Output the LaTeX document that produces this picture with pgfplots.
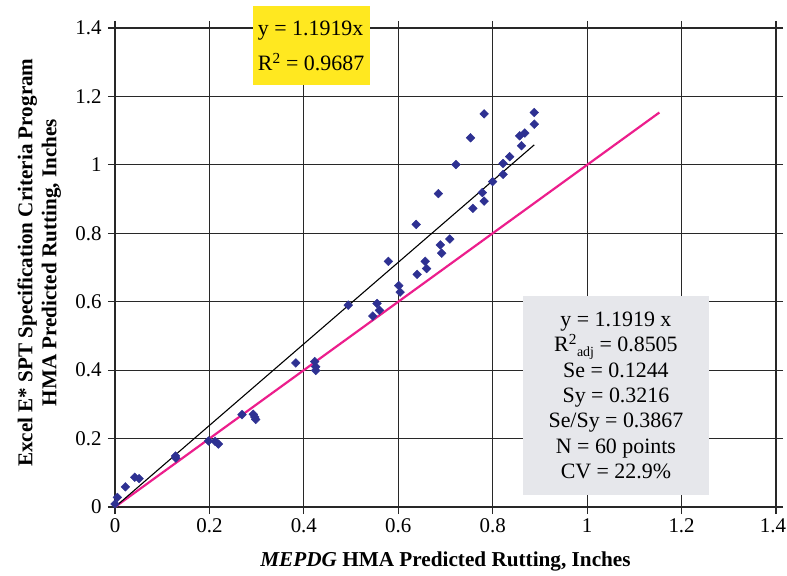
\documentclass[border=0pt]{standalone}
\usepackage{pgfplots}
\pgfplotsset{compat=1.18}
\usepackage{fontspec}
\setmainfont{Liberation Serif}
\definecolor{navy}{RGB}{46,49,146}
\definecolor{pinkline}{RGB}{236,30,140}
\definecolor{ybox}{RGB}{255,232,32}
\definecolor{gbox}{RGB}{230,231,235}
\definecolor{gridc}{RGB}{40,40,40}
\begin{document}
\begin{tikzpicture}
\useasboundingbox (-115bp,-69bp) rectangle (672bp,507bp);
\begin{axis}[
  scale only axis, width=661bp, height=479bp,
  at={(0,0)}, anchor=south west,
  xmin=0, xmax=1.4, ymin=0, ymax=1.4,
  xtick={0,0.2,...,1.4}, ytick={0,0.2,...,1.4},
  xticklabels={0,0.2,0.4,0.6,0.8,1,1.2,\makebox[0pt][c]{\hspace{-6bp}1.4}},
  yticklabels={0,0.2,0.4,0.6,0.8,1,1.2,1.4},
  grid=major,
  major grid style={gridc, line width=1.1pt},
  axis line style={gridc, line width=1.1pt},
  tick style={gridc, line width=1.1pt},
  tick align=outside, major tick length=7bp,
  tick label style={font=\fontsize{21}{23}\selectfont},
  xticklabel style={yshift=-1bp},
  yticklabel style={xshift=-3bp},
  /pgf/number format/assume math mode=true,
  xlabel={\textbf{\textit{MEPDG} HMA Predicted Rutting, Inches}},
  ylabel={\textbf{Excel E* SPT Specification Criteria Program}\\\textbf{HMA Predicted Rutting, Inches}},
  xlabel style={font=\fontsize{21.3}{23}\selectfont, at={(axis description cs:0.5,-0.114)}, anchor=center},
  ylabel style={font=\fontsize{21.2}{24}\selectfont, align=center, at={(axis description cs:-0.1145,0.51)}, anchor=center},
  clip=false,
]
\addplot[pinkline, line width=2.2pt] coordinates {(0,0) (1.153,1.153)};
\addplot[black, line width=1.1pt] coordinates {(0,0) (0.888,1.0585)};
\addplot[only marks, mark=square*, mark options={rotate=45}, mark size=3.1pt, color=navy] coordinates {
(0.000,0.009) (0.005,0.028) (0.022,0.059) (0.042,0.087) (0.051,0.083)
(0.128,0.149) (0.129,0.143) (0.198,0.193) (0.212,0.192) (0.219,0.184)
(0.269,0.270) (0.293,0.271) (0.296,0.263) (0.298,0.256) (0.383,0.421)
(0.423,0.425) (0.425,0.410) (0.425,0.399) (0.494,0.590) (0.546,0.558)
(0.555,0.595) (0.560,0.575) (0.579,0.718) (0.601,0.647) (0.604,0.628)
(0.638,0.826) (0.640,0.680) (0.657,0.718) (0.660,0.697) (0.685,0.916)
(0.689,0.766) (0.692,0.742) (0.709,0.783) (0.722,1.001) (0.753,1.079)
(0.758,0.873) (0.778,0.919) (0.782,1.149) (0.782,0.894) (0.800,0.951)
(0.822,1.004) (0.822,0.972) (0.836,1.024) (0.857,1.085) (0.861,1.056)
(0.868,1.093) (0.888,1.153) (0.888,1.119)
};
\node[fill=ybox, minimum width=117bp, minimum height=79bp, align=left,
  font=\fontsize{22}{35}\selectfont, inner sep=0pt] at (axis cs:0.4153,1.3474)
  {y = 1.1919x\\R\textsuperscript{2} = 0.9687};
\node[fill=gbox, minimum width=186bp, minimum height=199bp, align=center,
  font=\fontsize{22}{25.5}\selectfont, inner sep=0pt] at (axis cs:1.061,0.326)
  {y = 1.1919 x\\R\textsuperscript{2}\raisebox{-0.45ex}{\fontsize{14}{15}\selectfont adj} = 0.8505\\Se = 0.1244\\Sy = 0.3216\\Se/Sy = 0.3867\\N = 60 points\\CV = 22.9\%};
\end{axis}
\end{tikzpicture}
\end{document}
